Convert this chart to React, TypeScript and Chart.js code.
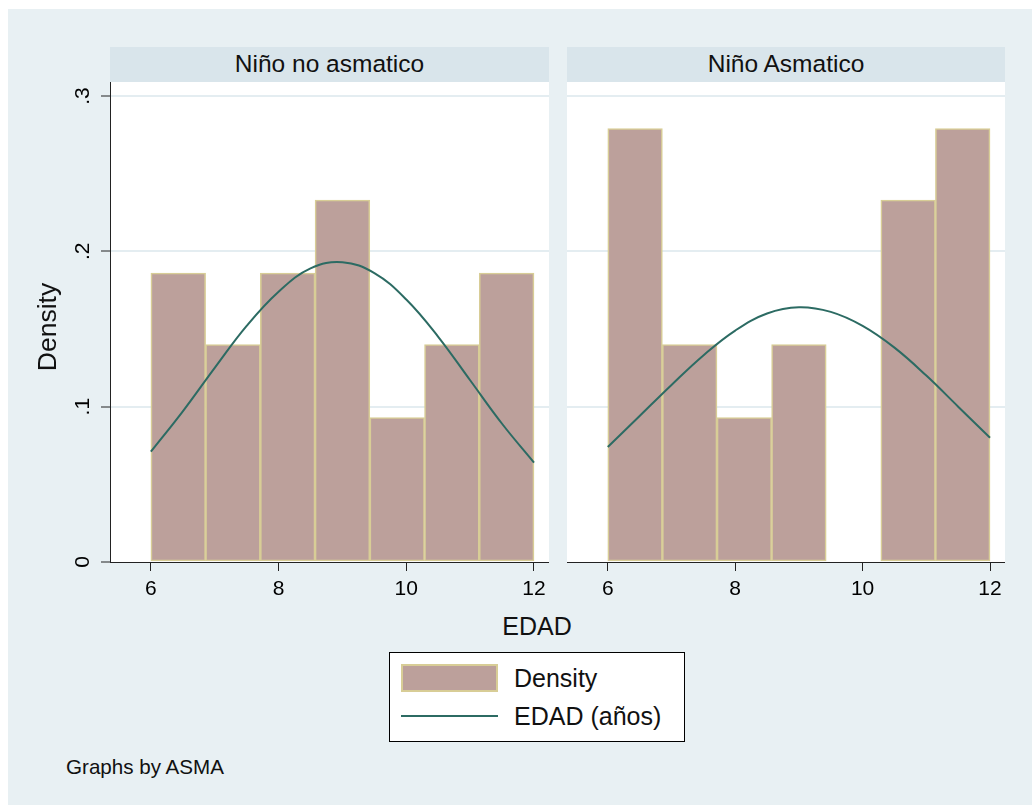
import React, { useEffect, useRef } from "react";
import { Chart, registerables } from "chart.js";

Chart.register(...registerables);

// ---- data ----
const panelTitles = ["Niño no asmatico", "Niño Asmatico"];
const binCenters = [6.4286, 7.2857, 8.1429, 9.0, 9.8571, 10.7143, 11.5714];
const densityNoAsmatico = [0.186, 0.14, 0.186, 0.233, 0.093, 0.14, 0.186];
const densityAsmatico = [0.279, 0.14, 0.093, 0.14, null, 0.233, 0.279];
const curveX = [6, 6.5, 7, 7.5, 8, 8.5, 9, 9.5, 10, 10.5, 11, 11.5, 12];
const curveNoAsmatico = [0.071, 0.097, 0.125, 0.152, 0.174, 0.189, 0.193, 0.186, 0.169, 0.145, 0.117, 0.089, 0.064];
const curveAsmatico = [0.074, 0.094, 0.114, 0.133, 0.149, 0.16, 0.164, 0.161, 0.152, 0.138, 0.12, 0.1, 0.08];
const xTickValues = [6, 8, 10, 12];
const yTickValues = [0, 0.1, 0.2, 0.3];
const yTickLabels = ["0", ".1", ".2", ".3"];
const legendLabels = ["Density", "EDAD (años)"];
const xTitle = "EDAD";
const yTitle = "Density";
const note = "Graphs by ASMA";

// ---- styles ----
const FONT = "'Liberation Sans', Arial, Helvetica, sans-serif";
const BG = "#e8f0f3";
const HEADER = "#d9e5eb";
const GRID = "#e4edf1";
const AXIS = "#222";
const FILL = "#bca09b";
const EDGE = "#d8cd96";
const LINE = "#2c6b63";

const whiteArea = {
  id: "whiteArea",
  beforeDraw(chart: any) {
    const { ctx, chartArea } = chart;
    ctx.save();
    ctx.fillStyle = "#ffffff";
    ctx.fillRect(chartArea.left, chartArea.top, chartArea.right - chartArea.left, chartArea.bottom - chartArea.top);
    ctx.restore();
  },
};

function makeConfig(bars: (number | null)[], curve: number[], showY: boolean): any {
  return {
    type: "bar",
    data: {
      datasets: [
        {
          type: "line",
          data: curveX.map((x, i) => ({ x, y: curve[i] })),
          borderColor: LINE,
          borderWidth: 2,
          pointRadius: 0,
          tension: 0.4,
          fill: false,
          order: 0,
        },
        {
          type: "bar",
          data: binCenters.map((x, i) => ({ x, y: bars[i] })),
          backgroundColor: FILL,
          borderColor: EDGE,
          borderWidth: 1.6,
          borderSkipped: false,
          barPercentage: 1,
          categoryPercentage: 1,
          order: 1,
        },
      ],
    },
    options: {
      animation: false,
      responsive: false,
      maintainAspectRatio: false,
      layout: { padding: 0 },
      plugins: { legend: { display: false }, tooltip: { enabled: false } },
      scales: {
        x: {
          type: "linear",
          min: 5.36,
          max: 12.235,
          offset: false,
          afterBuildTicks: (s: any) => {
            s.ticks = xTickValues.map((v) => ({ value: v }));
          },
          afterFit: (s: any) => {
            s.height = 48;
            s.paddingLeft = 0;
            s.paddingRight = 0;
          },
          grid: {
            offset: false,
            drawOnChartArea: false,
            drawTicks: true,
            tickLength: 9,
            color: AXIS,
            lineWidth: 1,
          },
          border: { display: true, color: AXIS, width: 1 },
          ticks: {
            font: { family: FONT, size: 21 },
            color: "#000",
            padding: 6,
            maxRotation: 0,
            minRotation: 0,
            autoSkip: false,
            callback: (v: any) => String(v),
          },
        },
        y: {
          type: "linear",
          min: 0,
          max: 0.309,
          afterBuildTicks: (s: any) => {
            s.ticks = yTickValues.map((v) => ({ value: v }));
          },
          afterFit: (s: any) => {
            s.width = showY ? 50 : 0;
            s.paddingTop = 0;
            s.paddingBottom = 0;
          },
          grid: {
            color: (c: any) => (c.tick && c.tick.value === 0 ? "rgba(0,0,0,0)" : GRID),
            lineWidth: 2,
            drawTicks: showY,
            tickLength: 9,
            tickColor: AXIS,
            tickWidth: 1,
          },
          border: { display: showY, color: AXIS, width: 1 },
          ticks: {
            display: showY,
            minRotation: 90,
            maxRotation: 90,
            crossAlign: "center",
            padding: 9,
            font: { family: FONT, size: 21 },
            color: "#000",
            callback: (_v: any, i: number) => yTickLabels[i],
          },
        },
      },
    },
    plugins: [whiteArea],
  };
}

function Panel(props: { left: number; width: number; bars: (number | null)[]; curve: number[]; showY: boolean }) {
  const ref = useRef<HTMLCanvasElement | null>(null);
  useEffect(() => {
    if (!ref.current) return;
    const chart = new Chart(ref.current, makeConfig(props.bars, props.curve, props.showY));
    return () => chart.destroy();
  }, []);
  return (
    <canvas
      ref={ref}
      width={props.width}
      height={528}
      style={{ position: "absolute", left: props.left, top: 82, width: props.width, height: 528 }}
    />
  );
}

export default function App() {
  const text: React.CSSProperties = { position: "absolute", fontFamily: FONT, color: "#111", whiteSpace: "nowrap" };
  return (
    <div style={{ position: "fixed", left: 0, top: 0, right: 0, bottom: 0, background: "#fff", overflow: "hidden" }}>
      <div style={{ position: "absolute", left: 8, top: 9, right: 0, bottom: 0, background: BG }} />
      {/* panel headers */}
      <div style={{ position: "absolute", left: 110, top: 47, width: 439, height: 35, background: HEADER }} />
      <div style={{ position: "absolute", left: 567, top: 47, width: 438, height: 35, background: HEADER }} />
      <div style={{ ...text, left: 110, top: 46, width: 439, height: 35, lineHeight: "35px", textAlign: "center", fontSize: 24.5 }}>
        {panelTitles[0]}
      </div>
      <div style={{ ...text, left: 567, top: 46, width: 438, height: 35, lineHeight: "35px", textAlign: "center", fontSize: 24.5 }}>
        {panelTitles[1]}
      </div>
      <Panel left={60} width={489} bars={densityNoAsmatico} curve={curveNoAsmatico} showY={true} />
      <Panel left={567} width={438} bars={densityAsmatico} curve={curveAsmatico} showY={false} />
      {/* y title */}
      <div
        style={{
          ...text,
          left: 47 - 100,
          top: 327 - 15,
          width: 200,
          height: 30,
          lineHeight: "30px",
          textAlign: "center",
          fontSize: 26.5,
          transform: "rotate(-90deg)",
        }}
      >
        {yTitle}
      </div>
      {/* x title */}
      <div style={{ ...text, left: 437, top: 611, width: 200, height: 30, lineHeight: "30px", textAlign: "center", fontSize: 25 }}>
        {xTitle}
      </div>
      {/* legend */}
      <div style={{ position: "absolute", left: 389, top: 652, width: 294, height: 88, border: "1px solid #000", background: "#fff" }} />
      <div style={{ position: "absolute", left: 401, top: 664, width: 93, height: 24, background: FILL, border: `2px solid ${EDGE}` }} />
      <div style={{ position: "absolute", left: 401, top: 715, width: 97, height: 2, background: LINE }} />
      <div style={{ ...text, left: 514, top: 663, height: 30, lineHeight: "30px", fontSize: 25 }}>{legendLabels[0]}</div>
      <div style={{ ...text, left: 514, top: 701, height: 30, lineHeight: "30px", fontSize: 25 }}>{legendLabels[1]}</div>
      {/* note */}
      <div style={{ ...text, left: 66, top: 754, height: 26, lineHeight: "26px", fontSize: 20.6 }}>{note}</div>
    </div>
  );
}
